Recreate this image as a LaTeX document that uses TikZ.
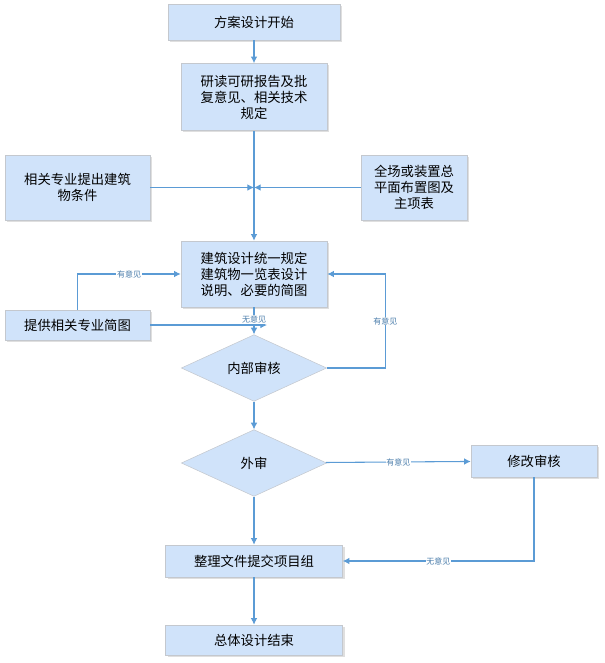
\documentclass[tikz,border=0pt]{standalone}
\usepackage{fontspec}
\setmainfont{Noto Sans CJK SC}
\usetikzlibrary{shapes.geometric,shadows,arrows.meta}
\definecolor{boxfill}{HTML}{D0E3FA}
\definecolor{boxline}{HTML}{C4C8CE}
\definecolor{flow}{HTML}{5B9BD5}
\begin{document}
\begin{tikzpicture}[x=1pt,y=-1pt,
		box/.style={rectangle, draw=boxline, fill=boxfill, drop shadow={shadow xshift=1.5pt,shadow yshift=-1.5pt,fill=black!25}, font=\fontsize{10}{12}\selectfont, align=center, inner sep=2pt},
		dec/.style={diamond, aspect=2.15, draw=boxline, fill=boxfill, font=\fontsize{10}{12}\selectfont, inner sep=0pt, minimum width=109pt, minimum height=50pt},
		link/.style={draw=flow, line width=0.8pt, -{Latex[length=5pt,width=5pt]}},
		lab/.style={font=\fontsize{6}{7}\selectfont, text=flow!80!black, fill=white, inner sep=0.5pt}
	]
	\useasboundingbox (0,0) rectangle (604*0.75,663*0.75);
	\def\s{0.75}
	\node[box, minimum width=172*\s pt, minimum height=36*\s pt] at (254*\s,22*\s) (start) {方案设计开始};
	\node[box, minimum width=146*\s pt, minimum height=67*\s pt] at (254*\s,97*\s) (read) {研读可研报告及批\\复意见、相关技术\\规定};
	\node[box, minimum width=145*\s pt, minimum height=65*\s pt] at (77.5*\s,187.5*\s) (cond) {相关专业提出建筑\\物条件};
	\node[box, minimum width=106*\s pt, minimum height=65*\s pt] at (414*\s,187.5*\s) (plan) {全场或装置总\\平面布置图及\\主项表};
	\node[box, minimum width=146*\s pt, minimum height=66*\s pt] at (254*\s,274*\s) (unify) {建筑设计统一规定\\建筑物一览表设计\\说明、必要的简图};
	\node[box, minimum width=145*\s pt, minimum height=30*\s pt] at (77.5*\s,325*\s) (sketch) {提供相关专业简图};
	\node[dec] at (254*\s,368*\s) (inner) {内部审核};
	\node[dec] at (254*\s,463*\s) (outer) {外审};
	\node[box, minimum width=126*\s pt, minimum height=32*\s pt] at (534*\s,461*\s) (modify) {修改审核};
	\node[box, minimum width=177*\s pt, minimum height=32*\s pt] at (254*\s,561*\s) (tidy) {整理文件提交项目组};
	\node[box, minimum width=177*\s pt, minimum height=30*\s pt] at (254*\s,640*\s) (finish) {总体设计结束};
	\coordinate (join) at (254*\s,187.5*\s);
	\coordinate (tip) at (267*\s,325*\s);

	\draw[link] (start) -- (read);
	\draw[link] (read) -- (unify);
	\draw[link] (cond) -- (join);
	\draw[link] (plan) -- (join);
	\draw[link] (sketch.north) |- node[lab, pos=0.75] {有意见} (unify.west);
	\draw[link] (sketch) -- (tip);
	\draw[link] (unify) -- node[lab, pos=0.45] {无意见} (inner);
	\draw[link] (inner.east) -| node[lab, pos=0.75] {有意见} ([xshift=58*\s pt]unify.east) -- (unify.east);
	\draw[link] (inner) -- (outer);
	\draw[link] (outer) -- node[lab] {有意见} (modify);
	\draw[link] (modify.south) |- node[lab, pos=0.75] {无意见} (tidy.east);
	\draw[link] (outer) -- (tidy);
	\draw[link] (tidy) -- (finish);
\end{tikzpicture}
\end{document}
